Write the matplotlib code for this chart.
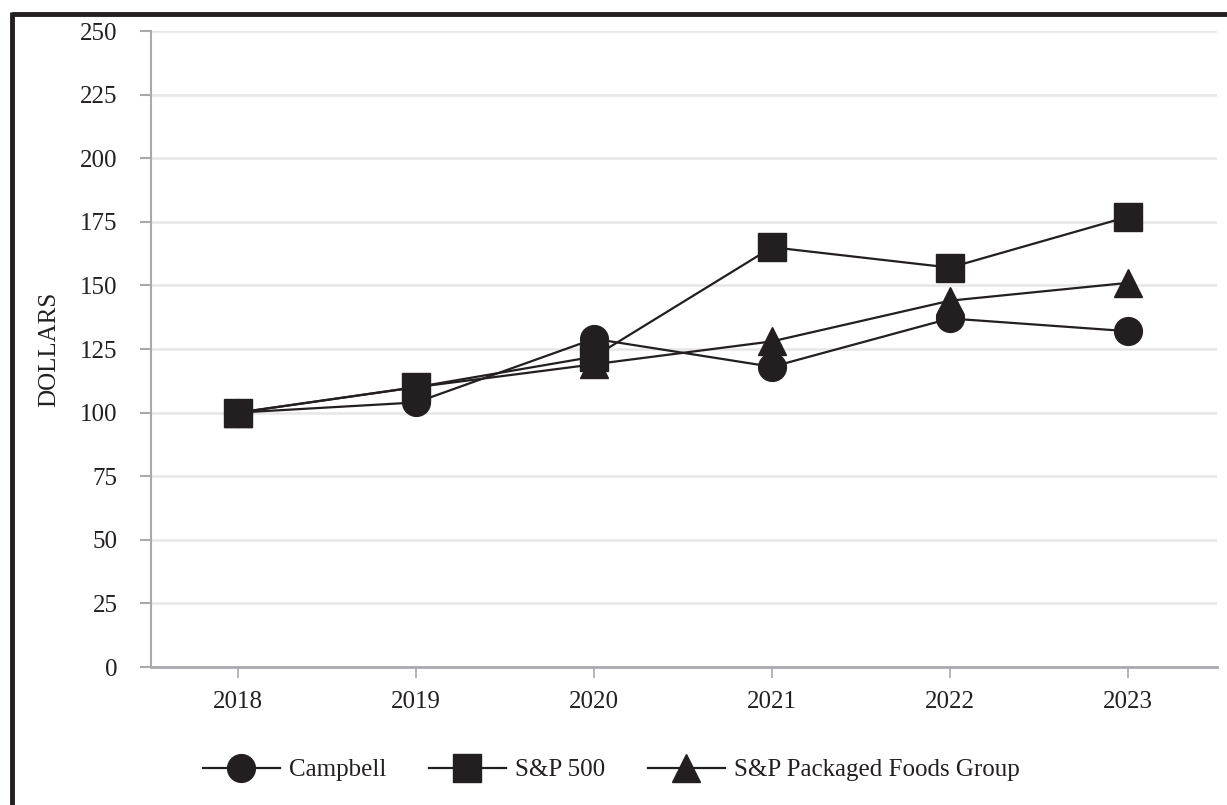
import matplotlib
matplotlib.use("Agg")
import matplotlib.pyplot as plt
from matplotlib.lines import Line2D

years = ["2018", "2019", "2020", "2021", "2022", "2023"]
campbell = [100, 104, 129, 118, 137, 132]
sp500 = [100, 110, 122, 165, 157, 177]
packaged_foods = [100, 110, 119, 128, 144, 151]
series_names = ["Campbell", "S&P 500", "S&P Packaged Foods Group"]
y_ticks = [0, 25, 50, 75, 100, 125, 150, 175, 200, 225, 250]

ink = "#231f20"
grid_col = "#e6e6e6"
axis_col = "#a7a9ac"

plt.rcParams["font.family"] = ["Liberation Serif", "DejaVu Serif"]

fig = plt.figure(figsize=(12.27, 8.05), dpi=100)
ax = fig.add_axes([151 / 1227, 1 - 667 / 805, (1217 - 151) / 1227, (667 - 31) / 805])

x = list(range(len(years)))
ms = 20
ax.plot(x, campbell, color=ink, lw=1.6, marker="o", ms=ms, zorder=3, label=series_names[0])
ax.plot(x, sp500, color=ink, lw=1.6, marker="s", ms=ms, zorder=3, label=series_names[1])
ax.plot(x, packaged_foods, color=ink, lw=1.6, marker="^", ms=ms, zorder=3, label=series_names[2])

ax.set_xlim(-0.49, 5.5)
ax.set_ylim(0, 250)
ax.set_xticks(x)
ax.set_xticklabels(years)
ax.set_yticks(y_ticks)
ax.yaxis.grid(True, color=grid_col, lw=1.8)
ax.set_axisbelow(True)

for side in ("top", "right"):
    ax.spines[side].set_visible(False)
ax.spines["left"].set_color(axis_col)
ax.spines["left"].set_linewidth(1.5)
ax.spines["bottom"].set_color(axis_col)
ax.spines["bottom"].set_linewidth(2)

ax.tick_params(axis="y", length=8, width=1.5, color=axis_col, labelsize=18, pad=16, labelcolor=ink)
ax.tick_params(axis="x", length=8, width=1.2, color=axis_col, labelsize=18, pad=9, labelcolor=ink)

ax.set_ylabel("DOLLARS", fontsize=18, color=ink)
ax.yaxis.set_label_coords(-0.085, 0.5)

handles = [
    Line2D([], [], color=ink, lw=1.6, marker="o", ms=ms),
    Line2D([], [], color=ink, lw=1.6, marker="s", ms=ms),
    Line2D([], [], color=ink, lw=1.6, marker="^", ms=ms),
]
fig.legend(handles, series_names, loc="center", bbox_to_anchor=(611 / 1227, 1 - 770 / 805),
           ncol=3, frameon=False, fontsize=18, handlelength=3.1, handletextpad=0.35,
           columnspacing=1.7, labelcolor=ink)

# outer frame along top and left edges
fig.add_artist(Line2D([12 / 1227, 1], [1 - 14 / 805, 1 - 14 / 805], color=ink, lw=3.5,
                      transform=fig.transFigure, solid_capstyle="butt"))
fig.add_artist(Line2D([12 / 1227, 12 / 1227], [0, 1 - 12 / 805], color=ink, lw=3.5,
                      transform=fig.transFigure, solid_capstyle="butt"))

fig.savefig("out.png", dpi=100, facecolor="white")
